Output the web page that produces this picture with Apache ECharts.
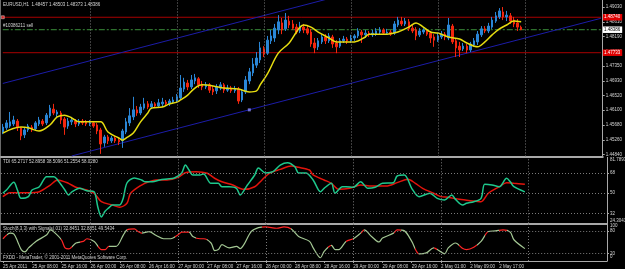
<!DOCTYPE html>
<html><head><meta charset="utf-8">
<script src="https://cdn.jsdelivr.net/npm/echarts@6/dist/echarts.min.js"></script>
<style>html,body{margin:0;padding:0;background:#000;}#c{width:625px;height:269px;}</style>
</head><body><div id="c"></div>
<script>
// ---------- data ----------
const timeLabels = ['25 Apr 2011','25 Apr 08:00','25 Apr 16:00','26 Apr 00:00','26 Apr 08:00','26 Apr 16:00',
  '27 Apr 00:00','27 Apr 08:00','27 Apr 16:00','28 Apr 00:00','28 Apr 08:00','28 Apr 16:00',
  '29 Apr 00:00','29 Apr 08:00','29 Apr 16:00','2 May 01:00','2 May 09:00','2 May 17:00'];
const priceTicks = [1.4484,1.4526,1.4568,1.4610,1.4652,1.4693,1.4735,1.4777,1.4819,1.4861,1.4903];
const opens = [1.4548,1.4560,1.4565,1.4571,1.4579,1.4560,1.4540,1.4554,1.4562,1.4557,1.4571,1.4579,1.4574,1.4594,1.4613,1.4599,1.4602,1.4585,1.4565,1.4577,
1.4579,1.4571,1.4579,1.4577,1.4571,1.4574,1.4568,1.4554,1.4517,1.4534,1.4523,1.4531,1.4525,1.4523,1.4548,1.4574,1.4591,1.4611,1.4602,1.4616,
1.4628,1.4619,1.4628,1.4622,1.4628,1.4633,1.4628,1.4633,1.4636,1.4645,1.4670,1.4687,1.4676,1.4693,1.4699,1.4684,1.4676,1.4682,1.4670,1.4665,
1.4673,1.4682,1.4667,1.4673,1.4665,1.4670,1.4639,1.4662,1.4693,1.4716,1.4738,1.4753,1.4784,1.4772,1.4807,1.4815,1.4838,1.4858,1.4841,1.4863,
1.4855,1.4846,1.4835,1.4846,1.4841,1.4832,1.4801,1.4790,1.4804,1.4818,1.4807,1.4818,1.4801,1.4792,1.4807,1.4812,1.4807,1.4815,1.4821,1.4832,
1.4824,1.4829,1.4824,1.4826,1.4832,1.4838,1.4829,1.4832,1.4829,1.4852,1.4863,1.4855,1.4861,1.4843,1.4838,1.4824,1.4832,1.4835,1.4829,1.4818,
1.4809,1.4818,1.4826,1.4815,1.4849,1.4807,1.4792,1.4784,1.4792,1.4781,1.4795,1.4804,1.4824,1.4841,1.4835,1.4846,1.4863,1.4875,1.4889,1.4875,
1.4878,1.4866,1.4858,1.48457];
const closes = [1.4562,1.4574,1.4577,1.4582,1.4560,1.4537,1.4554,1.4565,1.4554,1.4574,1.4582,1.4571,1.4596,1.4616,1.4602,1.4605,1.4582,1.4562,1.4579,1.4582,
1.4571,1.4579,1.4574,1.4571,1.4577,1.4565,1.4551,1.4514,1.4534,1.4523,1.4531,1.4523,1.4520,1.4551,1.4577,1.4594,1.4611,1.4602,1.4619,1.4628,
1.4619,1.4628,1.4622,1.4631,1.4633,1.4628,1.4636,1.4639,1.4648,1.4673,1.4690,1.4676,1.4696,1.4702,1.4682,1.4676,1.4682,1.4667,1.4662,1.4676,
1.4682,1.4667,1.4673,1.4665,1.4670,1.4636,1.4662,1.4696,1.4719,1.4741,1.4758,1.4787,1.4770,1.4809,1.4821,1.4843,1.4861,1.4838,1.4866,1.4852,
1.4843,1.4832,1.4849,1.4838,1.4829,1.4798,1.4787,1.4807,1.4818,1.4807,1.4821,1.4798,1.4790,1.4807,1.4812,1.4807,1.4815,1.4821,1.4835,1.4824,
1.4829,1.4824,1.4829,1.4835,1.4838,1.4829,1.4832,1.4826,1.4855,1.4866,1.4855,1.4863,1.4841,1.4835,1.4821,1.4835,1.4838,1.4826,1.4815,1.4809,
1.4821,1.4826,1.4818,1.4852,1.4804,1.4787,1.4781,1.4792,1.4781,1.4798,1.4807,1.4826,1.4841,1.4835,1.4849,1.4866,1.4878,1.4892,1.4875,1.4880,
1.4863,1.4855,1.4846,1.48386];
const lows = [1.4542,1.4554,1.4560,1.4565,1.4551,1.4525,1.4531,1.4548,1.4548,1.4551,1.4565,1.4565,1.4568,1.4588,1.4596,1.4591,1.4571,1.4540,1.4557,1.4568,
1.4562,1.4565,1.4568,1.4565,1.4565,1.4560,1.4542,1.4486,1.4506,1.4514,1.4517,1.4517,1.4511,1.4503,1.4542,1.4565,1.4582,1.4594,1.4596,1.4611,
1.4613,1.4613,1.4616,1.4616,1.4619,1.4622,1.4622,1.4628,1.4631,1.4639,1.4662,1.4667,1.4670,1.4684,1.4673,1.4667,1.4670,1.4659,1.4653,1.4656,
1.4667,1.4659,1.4662,1.4659,1.4659,1.4628,1.4633,1.4656,1.4684,1.4707,1.4730,1.4744,1.4761,1.4767,1.4798,1.4804,1.4826,1.4826,1.4835,1.4843,
1.4838,1.4826,1.4829,1.4829,1.4824,1.4790,1.4772,1.4781,1.4798,1.4798,1.4801,1.4787,1.4772,1.4787,1.4801,1.4798,1.4801,1.4807,1.4815,1.4801,
1.4815,1.4818,1.4818,1.4821,1.4824,1.4824,1.4824,1.4821,1.4824,1.4846,1.4849,1.4849,1.4835,1.4829,1.4809,1.4818,1.4826,1.4821,1.4801,1.4790,
1.4804,1.4812,1.4809,1.4809,1.4798,1.4761,1.4761,1.4778,1.4772,1.4775,1.4790,1.4795,1.4818,1.4829,1.4829,1.4841,1.4858,1.4869,1.4866,1.4863,
1.4855,1.4846,1.4835,1.48373];
const highs = [1.4571,1.4582,1.4605,1.4594,1.4585,1.4562,1.4560,1.4571,1.4568,1.4579,1.4591,1.4585,1.4602,1.4625,1.4628,1.4611,1.4608,1.4591,1.4588,1.4591,
1.4585,1.4585,1.4585,1.4582,1.4582,1.4579,1.4574,1.4560,1.4540,1.4540,1.4537,1.4537,1.4531,1.4557,1.4588,1.4616,1.4648,1.4622,1.4628,1.4645,
1.4636,1.4636,1.4633,1.4642,1.4645,1.4639,1.4642,1.4648,1.4656,1.4710,1.4702,1.4696,1.4710,1.4713,1.4704,1.4693,1.4690,1.4687,1.4679,1.4684,
1.4690,1.4687,1.4682,1.4679,1.4679,1.4676,1.4670,1.4707,1.4730,1.4758,1.4775,1.4804,1.4792,1.4821,1.4838,1.4855,1.4880,1.4872,1.4886,1.4878,
1.4866,1.4855,1.4861,1.4855,1.4849,1.4841,1.4815,1.4815,1.4826,1.4826,1.4829,1.4824,1.4809,1.4815,1.4821,1.4818,1.4824,1.4826,1.4843,1.4838,
1.4838,1.4835,1.4838,1.4843,1.4846,1.4843,1.4841,1.4838,1.4863,1.4875,1.4875,1.4872,1.4869,1.4852,1.4846,1.4843,1.4843,1.4841,1.4835,1.4826,
1.4829,1.4835,1.4832,1.4872,1.4855,1.4815,1.4804,1.4801,1.4798,1.4804,1.4815,1.4835,1.4849,1.4849,1.4858,1.4875,1.4889,1.4900,1.4903,1.4892,
1.4886,1.4875,1.4869,1.48503];
const maPoints = [[0,1.4545],[5,1.4562],[7,1.4560],[10,1.4551],[13,1.4568],[15,1.4591],[17,1.4596],[19,1.4588],[21,1.4577],[24,1.4577],[27,1.4577],
[29,1.4548],[32,1.4531],[33,1.4525],[34,1.4531],[36,1.4545],[38,1.4577],[40,1.4602],[41,1.4616],[44,1.4619],[46,1.4628],[48,1.4633],[49,1.4639],
[51,1.4653],[53,1.4673],[55,1.4682],[58,1.4679],[61,1.4673],[65,1.4670],[68,1.4662],[70,1.4665],[71,1.4682],[73,1.4713],[76,1.4772],[79,1.4801],
[81,1.4832],[82,1.4846],[83,1.4852],[85,1.4846],[87,1.4832],[90,1.4815],[92,1.4804],[97,1.4804],[100,1.4818],[101,1.4826],[106,1.4826],[109,1.4832],
[112,1.4846],[114,1.4858],[116,1.4846],[118,1.4832],[120,1.4829],[123,1.4818],[126,1.4812],[128,1.4801],[131,1.4790],[133,1.4804],[135,1.4824],
[137,1.4841],[139,1.4852],[141,1.4863],[143,1.4861]];
const channelUpper = [[0,1.4686],[90,1.4927]];
const channelLower = [[19,1.4480],[165,1.4871]];
const stopLines = [1.48740,1.47733];
const orderPrice = 1.48386;
const orderLabel = '#10386211 sell';
const markerPoints = [[68,1.4611]];
const daySplits = [24,48,72,96,120,144];
const tdiGreen = [[0,50.0],[1,52.9],[3,59.7],[4,52.9],[5,45.5],[7,47.0],[8,52.9],[10,55.8],[12,64.7],[14,64.7],[15,61.8],[17,52.9],[18,48.5],[19,51.4],
[21,54.4],[23,52.3],[25,51.4],[26,38.1],[27,29.0],[28,34.0],[29,37.0],[30,39.6],[32,39.6],[33,45.8],[34,59.1],[36,63.5],[38,61.8],[39,60.2],[41,60.2],
[43,61.8],[45,62.6],[47,63.5],[49,68.0],[50,75.0],[51,70.6],[52,66.2],[54,66.2],[55,67.1],[57,58.8],[59,58.8],[60,55.8],[62,55.8],[64,54.4],[65,48.5],
[67,57.3],[69,66.2],[70,72.4],[72,68.0],[74,69.1],[76,75.0],[78,77.1],[80,73.5],[81,68.0],[83,68.0],[85,61.8],[87,51.4],[88,54.4],[90,58.8],[91,50.0],
[93,55.8],[94,55.8],[96,55.3],[98,60.2],[100,54.4],[102,55.3],[104,58.8],[107,59.4],[108,65.3],[110,66.2],[112,54.4],[114,47.0],[117,50.0],[119,45.5],
[121,44.0],[123,48.5],[124,44.6],[126,39.6],[127,41.1],[129,42.5],[131,45.5],[132,57.9],[134,57.3],[136,55.8],[138,63.3],[139,60.2],[140,55.8],[143,51.2554]];
const tdiRed = [[0,47.0],[2,50.5],[5,50.5],[7,50.5],[10,51.4],[13,57.3],[15,61.8],[18,58.8],[20,55.3],[23,52.9],[25,50.0],[27,42.5],[30,39.6],[32,37.6],
[34,41.1],[35,50.0],[38,57.3],[40,60.2],[42,61.8],[45,61.8],[48,64.1],[50,68.2],[53,69.1],[56,67.7],[58,63.3],[60,60.2],[63,57.3],[66,53.5],[69,55.8],
[71,61.8],[73,67.7],[76,71.2],[79,74.2],[81,73.0],[84,70.6],[85,66.2],[88,61.8],[90,58.8],[92,53.5],[95,54.4],[98,57.3],[101,56.4],[105,56.4],[108,59.4],
[111,62.4],[113,58.8],[115,54.4],[118,50.0],[120,47.0],[122,46.4],[125,44.6],[128,43.4],[131,42.5],[133,50.0],[136,55.8],[138,59.4],[140,58.8],[143,58.0280]];
const tdiLevels = [68,50,32];
const tdiMax = 81.7893, tdiMin = 24.3041;
const stochK = [[0,59.0],[2,73.9],[3,71.3],[4,52.0],[5,30.3],[6,24.3],[7,34.7],[9,52.0],[12,69.5],[13,82.5],[14,76.5],[16,56.4],[17,34.7],[18,32.1],
[20,47.8],[22,52.0],[23,59.0],[25,52.0],[27,30.3],[28,30.3],[29,38.9],[31,38.9],[33,69.5],[34,82.5],[36,85.1],[37,78.1],[38,73.9],[40,78.1],[42,67.6],
[44,59.0],[46,59.0],[48,69.5],[49,76.5],[51,76.5],[52,65.0],[54,59.0],[55,59.0],[57,47.8],[58,27.7],[59,30.3],[60,43.3],[62,34.7],[64,38.9],[65,32.9],
[66,43.3],[68,78.1],[70,88.5],[72,90.3],[75,86.9],[77,90.3],[79,85.1],[81,65.0],[84,52.0],[85,34.7],[87,8.6],[88,25.8],[90,41.5],[91,30.3],[92,30.3],
[94,52.0],[96,59.0],[98,73.9],[99,82.5],[101,65.0],[103,50.4],[104,60.8],[107,73.9],[108,82.5],[110,79.9],[112,52.0],[114,19.1],[116,21.7],[118,34.7],
[119,30.3],[121,19.1],[122,34.7],[124,47.8],[126,32.9],[127,30.3],[129,36.3],[131,52.0],[133,78.1],[135,79.9],[137,82.5],[139,76.5],[140,56.4],[143,32.8451]];
const stochRedRanges = [[0,1],[16,19],[21,24],[26,29],[34,38],[47,51],[53,56],[71,79],[89,90],[94,96],[98,99],[107,109],[113,114],[118,119],[125,130],[132,133],[136,138]];
const stochLevels = [80,20];
const headerMain = 'EURUSD,H1  1.48457 1.48503 1.48373 1.48386';
const headerTdi = 'TDI 65.2717 52.8958 38.5096 51.2554 58.0280';
const headerStoch = 'Stoch(8,3,3) with Signals(.01) 32.8451 32.8851 49.5434';
const footer = 'FXDD - MetaTrader, \u00a9 2001-2011 MetaQuotes Software Corp.';

// ---------- chart ----------
const NCAT = 166;
const cats = Array.from({length: NCAT}, (_, i) => String(i));
const FONT = 'Liberation Sans';
const FS = 4.5;
const TXT = '#d4d4d4';
const FRAME = '#a8a8a8';
const showLabel = (i) => i % 8 === 0 && (i / 8) < timeLabels.length;

const chart = echarts.init(document.getElementById('c'), null, {renderer: 'canvas'});

const xBase = (gi, last) => ({
  type: 'category', gridIndex: gi, data: cats, boundaryGap: true,
  axisLine: {show: true, lineStyle: {color: FRAME, width: last ? 1 : 2}},
  axisTick: last ? {show: true, alignWithLabel: true, interval: showLabel, length: 2, lineStyle: {color: FRAME}} : {show: false},
  axisLabel: last ? {show: true, interval: showLabel, formatter: (v) => timeLabels[Number(v) / 8] || '',
    align: 'left', color: TXT, fontSize: FS, fontFamily: FONT, margin: 3} : {show: false},
  splitLine: {show: false}
});
const yBase = (gi, min, max, ticks, fmt) => ({
  type: 'value', gridIndex: gi, position: 'right', min, max,
  axisLine: {show: true, lineStyle: {color: FRAME, width: 1}},
  axisTick: {show: true, customValues: ticks, length: 2, lineStyle: {color: FRAME}},
  axisLabel: {show: true, customValues: ticks, formatter: fmt, color: TXT, fontSize: FS, fontFamily: FONT, margin: 3},
  splitLine: {show: false}
});

const dayLines = daySplits.map(d => ({xAxis: d}));
const gridLineStyle = {color: '#7a7a7a', type: [1, 2], width: 1};
const full = (v) => [[0, v], [NCAT - 1, v]];
const tag = (bg, fg, txt) => ({show: true, distance: 2, formatter: txt, backgroundColor: bg, color: fg,
  fontSize: FS, fontFamily: FONT, padding: [1, 2, 0.5, 1], lineHeight: 5});

const option = {
  backgroundColor: '#000',
  animation: false,
  grid: [
    {left: 1, top: 0, width: 606, height: 156.5},
    {left: 1, top: 157.4, width: 606, height: 65.9},
    {left: 1, top: 223.3, width: 606, height: 38.4}
  ],
  xAxis: [xBase(0, false), xBase(1, false), xBase(2, true)],
  yAxis: [
    yBase(0, 1.44785, 1.4923, priceTicks, v => v.toFixed(5)),
    yBase(1, 23.37, tdiMax, tdiLevels, v => String(v)),
    yBase(2, 0, 100, stochLevels, v => String(v))
  ],
  visualMap: [{
    type: 'piecewise', show: false, seriesIndex: 14, dimension: 0,
    pieces: stochRedRanges.map(r => ({gte: r[0], lte: r[1], color: '#ff2424'})),
    outOfRange: {color: '#a4c894'}
  }],
  series: [
    // 0: day grid lines main
    {type: 'line', xAxisIndex: 0, yAxisIndex: 0, data: [], z: 1, silent: true,
      markLine: {silent: true, symbol: 'none', animation: false, label: {show: false}, lineStyle: gridLineStyle, data: dayLines}},
    // 1,2: stop lines
    {type: 'line', xAxisIndex: 0, yAxisIndex: 0, data: full(stopLines[0]), symbol: 'none', z: 2, silent: true,
      lineStyle: {color: '#a80000', width: 1}, endLabel: tag('#e00000', '#ffffff', stopLines[0].toFixed(5))},
    {type: 'line', xAxisIndex: 0, yAxisIndex: 0, data: full(stopLines[1]), symbol: 'none', z: 2, silent: true,
      lineStyle: {color: '#a80000', width: 1}, endLabel: tag('#e00000', '#ffffff', stopLines[1].toFixed(5))},
    // 3: order line
    {type: 'line', xAxisIndex: 0, yAxisIndex: 0, data: full(orderPrice), symbol: 'none', z: 2, silent: true,
      lineStyle: {color: '#3a8f3a', type: [6, 2, 2, 2], width: 1}, endLabel: tag('#ffffff', '#000000', orderPrice.toFixed(5))},
    // 4,5: channel
    {type: 'line', xAxisIndex: 0, yAxisIndex: 0, data: channelUpper, symbol: 'none', z: 2, clip: true,
      lineStyle: {color: '#1c1ca8', width: 1}},
    {type: 'line', xAxisIndex: 0, yAxisIndex: 0, data: channelLower, symbol: 'none', z: 2, clip: true,
      lineStyle: {color: '#1c1ca8', width: 1}},
    // 6: candles
    {type: 'candlestick', xAxisIndex: 0, yAxisIndex: 0, z: 3, barWidth: 2,
      data: opens.map((o, i) => [o, closes[i], lows[i], highs[i]]),
      itemStyle: {color: '#2a86d6', color0: '#f3260e', borderColor: '#2a86d6', borderColor0: '#f3260e', borderWidth: 1}},
    // 7: MA
    {type: 'line', xAxisIndex: 0, yAxisIndex: 0, data: maPoints, symbol: 'none', smooth: 0.35, z: 4,
      lineStyle: {color: '#e6dc10', width: 1.5}},
    // 8: marker
    {type: 'scatter', xAxisIndex: 0, yAxisIndex: 0, data: markerPoints, symbol: 'rect', symbolSize: 3, z: 5,
      itemStyle: {color: '#8c8cff'}},
    // 9: stop line start marker
    {type: 'scatter', xAxisIndex: 0, yAxisIndex: 0, data: [[0, stopLines[0]]], symbol: 'rect', symbolSize: 3, z: 5,
      itemStyle: {color: '#ff3030', borderColor: '#ffffff', borderWidth: 0.5}},
    // 10: TDI grid lines
    {type: 'line', xAxisIndex: 1, yAxisIndex: 1, data: [], z: 1, silent: true,
      markLine: {silent: true, symbol: 'none', animation: false, label: {show: false}, lineStyle: gridLineStyle,
        data: [...dayLines, ...tdiLevels.map(v => ({yAxis: v}))]}},
    // 11,12: TDI lines
    {type: 'line', xAxisIndex: 1, yAxisIndex: 1, data: tdiRed, symbol: 'none', smooth: 0.3, z: 3,
      lineStyle: {color: '#e3140c', width: 1.5}},
    {type: 'line', xAxisIndex: 1, yAxisIndex: 1, data: tdiGreen, symbol: 'none', smooth: 0.3, z: 4,
      lineStyle: {color: '#1ec88c', width: 1.5}},
    // 13: stoch grid lines
    {type: 'line', xAxisIndex: 2, yAxisIndex: 2, data: [], z: 1, silent: true,
      markLine: {silent: true, symbol: 'none', animation: false, label: {show: false}, lineStyle: gridLineStyle,
        data: [...dayLines, ...stochLevels.map(v => ({yAxis: v}))]}},
    // 14: stoch line
    {type: 'line', xAxisIndex: 2, yAxisIndex: 2, data: stochK, symbol: 'none', smooth: 0.3, z: 3,
      lineStyle: {width: 1.2}}
  ]
};
chart.setOption(option);

const edgeLabels = [
  {axis: 1, value: tdiMax, text: tdiMax.toFixed(4), dy: 2.6},
  {axis: 1, value: tdiMin, text: tdiMin.toFixed(4), dy: -1.6},
  {axis: 2, value: 100, text: '100', dy: 2.7},
  {axis: 2, value: 0, text: '0', dy: -4.4}
];
const txt = (x, y, t) => ({type: 'text', x, y, silent: true,
  style: {text: t, fill: TXT, fontSize: FS, fontFamily: FONT, verticalAlign: 'middle', align: 'left'}});
const graphics = [
  {type: 'line', silent: true, shape: {x1: 0.5, y1: 0, x2: 0.5, y2: 262}, style: {stroke: '#6a6a6a', lineWidth: 1}},
  txt(3, 4.7, headerMain),
  txt(3, 162, headerTdi),
  txt(3, 228.3, headerStoch),
  txt(3, 257.3, footer)
];
edgeLabels.forEach(e => {
  const y = chart.convertToPixel({yAxisIndex: e.axis}, e.value);
  graphics.push(txt(610, y + e.dy, e.text));
});
const orderY = chart.convertToPixel({yAxisIndex: 0}, orderPrice);
graphics.push(txt(3, orderY - 4, orderLabel));
chart.setOption({graphic: graphics});
</script></body></html>
